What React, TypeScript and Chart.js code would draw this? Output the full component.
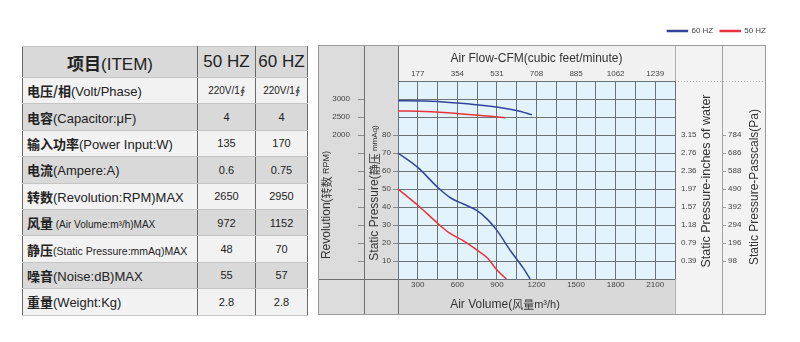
import React, { useEffect, useRef } from 'react';
import { Chart, registerables } from 'chart.js';

Chart.register(...registerables);

// ---------- chart data ----------
const airVolume60 = [150, 300, 450, 550, 650, 750, 830, 900, 1000, 1100, 1152];
const pressure60 = [70, 62, 51, 45, 41.5, 38, 33, 27, 16, 6, 0];
const airVolume50 = [150, 300, 450, 530, 650, 750, 830, 900, 972];
const pressure50 = [50, 41, 31, 26, 21, 16, 11.5, 5, 0];
const rpmVolume60 = [150, 350, 600, 850, 1050, 1165];
const rpm60 = [2950, 2945, 2890, 2800, 2680, 2560];
const rpmVolume50 = [150, 350, 600, 850, 965];
const rpm50 = [2670, 2655, 2600, 2520, 2480];

const seriesNames = ['60 HZ', '50 HZ'];
const volumeTicks = [300, 600, 900, 1200, 1500, 1800, 2100];
const cfmLabels = ['177', '354', '531', '708', '885', '1062', '1239'];
const pressureTicks = [10, 20, 30, 40, 50, 60, 70, 80];
const inchLabels = ['0.39', '0.79', '1.18', '1.57', '1.97', '2.36', '2.76', '3.15'];
const pascalLabels = ['98', '196', '294', '392', '490', '588', '686', '784'];
const rpmTicks = [2000, 2500, 3000];

// ---------- table data ----------
const tableHeader = ['项目(ITEM)', '50 HZ', '60 HZ'];
const itemZh = ['电压/相', '电容', '输入功率', '电流', '转数', '风量', '静压', '噪音', '重量'];
const itemEn = [
  '(Volt/Phase)',
  '(Capacitor:μF)',
  '(Power Input:W)',
  '(Ampere:A)',
  '(Revolution:RPM)MAX',
  ' (Air Volume:m³/h)MAX',
  '(Static Pressure:mmAq)MAX',
  '(Noise:dB)MAX',
  '(Weight:Kg)',
];
const values50 = ['220V/1∮', '4', '135', '0.6', '2650', '972', '48', '55', '2.8'];
const values60 = ['220V/1∮', '4', '170', '0.75', '2950', '1152', '70', '57', '2.8'];

const FONT = "'Liberation Sans', Arial, sans-serif";
const CJK = "'Noto Sans CJK SC', sans-serif";
const BLUE = '#34449a';
const RED = '#e8333c';
const GRID = '#6b7379';
const NONE = 'rgba(0,0,0,0)';

const pts = (xs: number[], ys: number[]) => xs.map((x, i) => ({ x, y: ys[i] }));

type Part = { t: string; s: number; f: string };
function drawParts(ctx: CanvasRenderingContext2D, x: number, y: number, parts: Part[], rotate: boolean) {
  ctx.save();
  ctx.translate(x, y);
  if (rotate) ctx.rotate(-Math.PI / 2);
  const widths = parts.map((p) => {
    ctx.font = `${p.s}px ${p.f}`;
    return ctx.measureText(p.t).width;
  });
  const total = widths.reduce((a, b) => a + b, 0);
  let cx = -total / 2;
  ctx.textBaseline = 'middle';
  ctx.textAlign = 'left';
  ctx.fillStyle = '#333';
  parts.forEach((p, i) => {
    ctx.font = `${p.s}px ${p.f}`;
    ctx.fillText(p.t, cx, 0);
    cx += widths[i];
  });
  ctx.restore();
}

const panelPlugin = {
  id: 'panel',
  beforeDraw(chart: any) {
    const { ctx, chartArea: ca, scales } = chart;
    const L = scales.yR.left;
    const T = scales.x2.top;
    const B = scales.x.bottom;
    const mid = scales.yPa.left;
    const R = mid + 44;
    ctx.save();
    ctx.fillStyle = '#dcdcdc';
    ctx.fillRect(L, T, ca.left - L, B - T);
    ctx.fillStyle = '#f1f1f1';
    ctx.fillRect(ca.left, T, ca.right - ca.left, ca.top - T);
    ctx.fillStyle = '#d9d9d9';
    ctx.fillRect(ca.left, ca.bottom, ca.right - ca.left, B - ca.bottom);
    ctx.fillStyle = '#f3f3f3';
    ctx.fillRect(ca.right, T, R - ca.right, B - T);
    ctx.fillStyle = '#e2f3fb';
    ctx.fillRect(ca.left, ca.top, ca.right - ca.left, ca.bottom - ca.top);
    const line = (x1: number, y1: number, x2: number, y2: number, c: string, dash: number[] = []) => {
      ctx.beginPath();
      ctx.setLineDash(dash);
      ctx.strokeStyle = c;
      ctx.lineWidth = 1;
      ctx.moveTo(x1, y1);
      ctx.lineTo(x2, y2);
      ctx.stroke();
    };
    const yr = Math.round(scales.yR.right) + 0.5;
    line(yr, T, yr, B, '#6f6f6f');
    line(Math.round(ca.left) + 0.5, T, Math.round(ca.left) + 0.5, B, '#6f6f6f');
    line(L, Math.round(ca.bottom) + 0.5, ca.left, Math.round(ca.bottom) + 0.5, '#6f6f6f');
    line(Math.round(ca.right) + 0.5, T, Math.round(ca.right) + 0.5, B, '#b0b0b0');
    line(Math.round(mid) + 0.5, T, Math.round(mid) + 0.5, B, '#a0a0a0');
    line(ca.right, Math.round(ca.top) + 0.5, R, Math.round(ca.top) + 0.5, '#a8a8a8', [1, 2]);
    ctx.setLineDash([]);
    ctx.strokeStyle = '#9a9a9a';
    ctx.strokeRect(L + 0.5, T + 0.5, R - L - 1, B - T - 1);
    ctx.restore();
  },
  afterDraw(chart: any) {
    const { ctx, chartArea: ca, scales } = chart;
    drawParts(ctx, scales.yR.left + 9, ca.bottom - 74, [
      { t: 'Revolution(', s: 12, f: FONT },
      { t: '转数', s: 11, f: CJK },
      { t: ' RPM)', s: 9, f: FONT },
    ], true);
    drawParts(ctx, scales.yP.left + 11, ca.bottom - 86, [
      { t: 'Static Pressure(', s: 12, f: FONT },
      { t: '静压', s: 11, f: CJK },
      { t: ' mmAq)', s: 8, f: FONT },
    ], true);
    drawParts(ctx, ca.right + 32, (ca.top + ca.bottom) / 2 + 1, [
      { t: 'Static Pressure-inches of water', s: 12.5, f: FONT },
    ], true);
    drawParts(ctx, scales.yPa.left + 33, (ca.top + ca.bottom) / 2 + 7, [
      { t: 'Static Pressure-Passcals(Pa)', s: 12, f: FONT },
    ], true);
    drawParts(ctx, ca.left + 107, ca.bottom + 26, [
      { t: 'Air Volume(', s: 12, f: FONT },
      { t: '风量', s: 11, f: CJK },
      { t: 'm³/h)', s: 11, f: FONT },
    ], false);
  },
};

const tickFont = { size: 8, family: FONT };
const inRange = (v: number, lo: number, hi: number) => v >= lo && v <= hi;

function PerfChart() {
  const ref = useRef<HTMLCanvasElement | null>(null);
  useEffect(() => {
    if (!ref.current) return;
    const chart = new Chart(ref.current, {
      type: 'line',
      data: {
        datasets: [
          {
            label: seriesNames[0],
            data: pts(airVolume60, pressure60),
            borderColor: BLUE,
            backgroundColor: BLUE,
            xAxisID: 'x',
            yAxisID: 'yP',
          },
          {
            label: seriesNames[1],
            data: pts(airVolume50, pressure50),
            borderColor: RED,
            backgroundColor: RED,
            xAxisID: 'x',
            yAxisID: 'yP',
          },
          {
            label: seriesNames[0] + ' RPM',
            data: pts(rpmVolume60, rpm60),
            borderColor: BLUE,
            backgroundColor: BLUE,
            xAxisID: 'x',
            yAxisID: 'yR',
          },
          {
            label: seriesNames[1] + ' RPM',
            data: pts(rpmVolume50, rpm50),
            borderColor: RED,
            backgroundColor: RED,
            xAxisID: 'x',
            yAxisID: 'yR',
          },
        ],
      },
      options: {
        responsive: false,
        animation: false,
        layout: { padding: { left: 0, right: 0, top: 0, bottom: 3 } },
        elements: {
          point: { radius: 0 },
          line: { borderWidth: 1.5, cubicInterpolationMode: 'monotone' },
        },
        plugins: {
          tooltip: { enabled: false },
          legend: {
            position: 'top',
            align: 'end',
            labels: {
              boxWidth: 20,
              boxHeight: 1,
              padding: 7,
              color: '#444',
              font: { size: 8, family: FONT },
              filter: (item: any) => item.datasetIndex < 2,
            },
          },
        },
        scales: {
          x: {
            type: 'linear',
            position: 'bottom',
            min: 150,
            max: 2250,
            afterFit: (s: any) => { s.height = 36; },
            border: { display: false },
            grid: { color: GRID, drawTicks: false },
            ticks: {
              stepSize: 150,
              autoSkip: false,
              maxRotation: 0,
              padding: 1,
              color: '#444',
              font: tickFont,
              callback: (v: any) => (volumeTicks.includes(v) ? String(v) : ''),
            },
          },
          x2: {
            type: 'linear',
            position: 'top',
            min: 150,
            max: 2250,
            afterFit: (s: any) => { s.height = 36; },
            border: { display: false },
            grid: { display: false, drawTicks: false },
            title: {
              display: true,
              text: 'Air Flow-CFM(cubic feet/minute)',
              color: '#333',
              font: { size: 12, family: FONT },
              padding: { top: 6, bottom: 0 },
            },
            ticks: {
              stepSize: 150,
              autoSkip: false,
              maxRotation: 0,
              padding: 2,
              color: '#444',
              font: tickFont,
              callback: (v: any) => {
                const i = volumeTicks.indexOf(v);
                return i >= 0 ? cfmLabels[i] : '';
              },
            },
          },
          yP: {
            type: 'linear',
            position: 'left',
            weight: 0,
            min: 0,
            max: 110,
            afterFit: (s: any) => { s.width = 34; },
            border: { display: false },
            grid: {
              color: GRID,
              tickLength: 5,
              tickColor: (c: any) => (c.tick && pressureTicks.includes(c.tick.value) ? '#8a8a8a' : NONE),
            },
            ticks: {
              stepSize: 10,
              padding: 2,
              color: '#444',
              font: tickFont,
              callback: (v: any) => (pressureTicks.includes(v) ? String(v) : ''),
            },
          },
          yR: {
            type: 'linear',
            position: 'left',
            weight: 1,
            min: -2000,
            max: 3500,
            afterFit: (s: any) => { s.width = 46; },
            border: { display: false },
            grid: {
              drawOnChartArea: false,
              tickLength: 6,
              tickColor: (c: any) => (c.tick && inRange(c.tick.value, -1500, 3000) ? '#8a8a8a' : NONE),
            },
            ticks: {
              stepSize: 500,
              padding: 8,
              color: '#444',
              font: tickFont,
              callback: (v: any) => (rpmTicks.includes(v) ? String(v) : ''),
            },
          },
          yIn: {
            type: 'linear',
            position: 'right',
            weight: 0,
            min: 0,
            max: 110,
            afterFit: (s: any) => { s.width = 47; },
            border: { display: false },
            grid: { drawOnChartArea: false, drawTicks: false },
            ticks: {
              stepSize: 10,
              padding: 6,
              color: '#444',
              font: tickFont,
              callback: (v: any) => {
                const i = pressureTicks.indexOf(v);
                return i >= 0 ? inchLabels[i] : '';
              },
            },
          },
          yPa: {
            type: 'linear',
            position: 'right',
            weight: 1,
            min: 0,
            max: 110,
            afterFit: (s: any) => { s.width = 51; },
            border: { display: false },
            grid: {
              drawOnChartArea: false,
              tickLength: 4,
              tickColor: (c: any) => (c.tick && pressureTicks.includes(c.tick.value) ? '#9a9a9a' : NONE),
            },
            ticks: {
              stepSize: 10,
              padding: 2,
              color: '#444',
              font: tickFont,
              callback: (v: any) => {
                const i = pressureTicks.indexOf(v);
                return i >= 0 ? pascalLabels[i] : '';
              },
            },
          },
        },
      } as any,
      plugins: [panelPlugin],
    });
    return () => chart.destroy();
  }, []);
  return (
    <div style={{ position: 'absolute', left: 318, top: 20, width: 455, height: 298 }}>
      <canvas ref={ref} width={455} height={298} style={{ width: 455, height: 298, display: 'block' }} />
    </div>
  );
}

function Mixed({ text, zh, en }: { text: string; zh: React.CSSProperties; en: React.CSSProperties }) {
  const parts = text.split(/([\u4e00-\u9fff]+)/).filter((p) => p.length > 0);
  return (
    <>
      {parts.map((p, i) =>
        /[\u4e00-\u9fff]/.test(p) ? (
          <span key={i} style={zh}>{p}</span>
        ) : (
          <span key={i} style={en}>{p}</span>
        )
      )}
    </>
  );
}

function SpecTable() {
  const vLine = '1px solid #6a6a6a';
  const hLine = '1px solid #c4c4c4';
  const cell: React.CSSProperties = {
    padding: 0,
    borderLeft: vLine,
    borderRight: vLine,
    borderTop: hLine,
    borderBottom: hLine,
    whiteSpace: 'nowrap',
    overflow: 'hidden',
  };
  const zhStyle: React.CSSProperties = { fontFamily: CJK, fontWeight: 700, fontSize: 13 };
  const enSize = (i: number) => (i === 5 ? 10 : i === 6 ? 10.5 : 13);
  return (
    <div style={{ position: 'absolute', left: 22, top: 46, width: 285 }}>
      <table
        style={{
          borderCollapse: 'collapse',
          tableLayout: 'fixed',
          width: 285,
          fontFamily: FONT,
          color: '#222',
          border: '1px solid #7a7a7a',
        }}
      >
        <colgroup>
          <col style={{ width: 175 }} />
          <col style={{ width: 58 }} />
          <col style={{ width: 52 }} />
        </colgroup>
        <thead>
          <tr style={{ height: 31, background: '#d9d9d9' }}>
            {tableHeader.map((h, i) => (
              <th key={i} style={{ ...cell, fontWeight: 400, fontSize: 17, textAlign: 'center' }}>
                <Mixed text={h} zh={{ fontFamily: CJK, fontWeight: 700, fontSize: 17 }} en={{ fontSize: 17 }} />
              </th>
            ))}
          </tr>
        </thead>
        <tbody>
          {itemZh.map((zh, i) => (
            <tr key={i} style={{ height: 26.4, background: i % 2 === 0 ? '#f2f2f2' : '#d9d9d9' }}>
              <td style={{ ...cell, paddingLeft: 4, textAlign: 'left' }}>
                <span style={zhStyle}>{zh}</span>
                <span style={{ fontSize: enSize(i) }}>{itemEn[i]}</span>
              </td>
              <td style={{ ...cell, textAlign: 'center', fontSize: i === 0 ? 10 : 11 }}>{values50[i]}</td>
              <td style={{ ...cell, textAlign: 'center', fontSize: i === 0 ? 10 : 11 }}>{values60[i]}</td>
            </tr>
          ))}
        </tbody>
      </table>
    </div>
  );
}

export default function App() {
  return (
    <div
      style={{
        position: 'absolute',
        left: 0,
        top: 0,
        width: 800,
        height: 342,
        background: '#fff',
        overflow: 'hidden',
      }}
    >
      <SpecTable />
      <PerfChart />
    </div>
  );
}
